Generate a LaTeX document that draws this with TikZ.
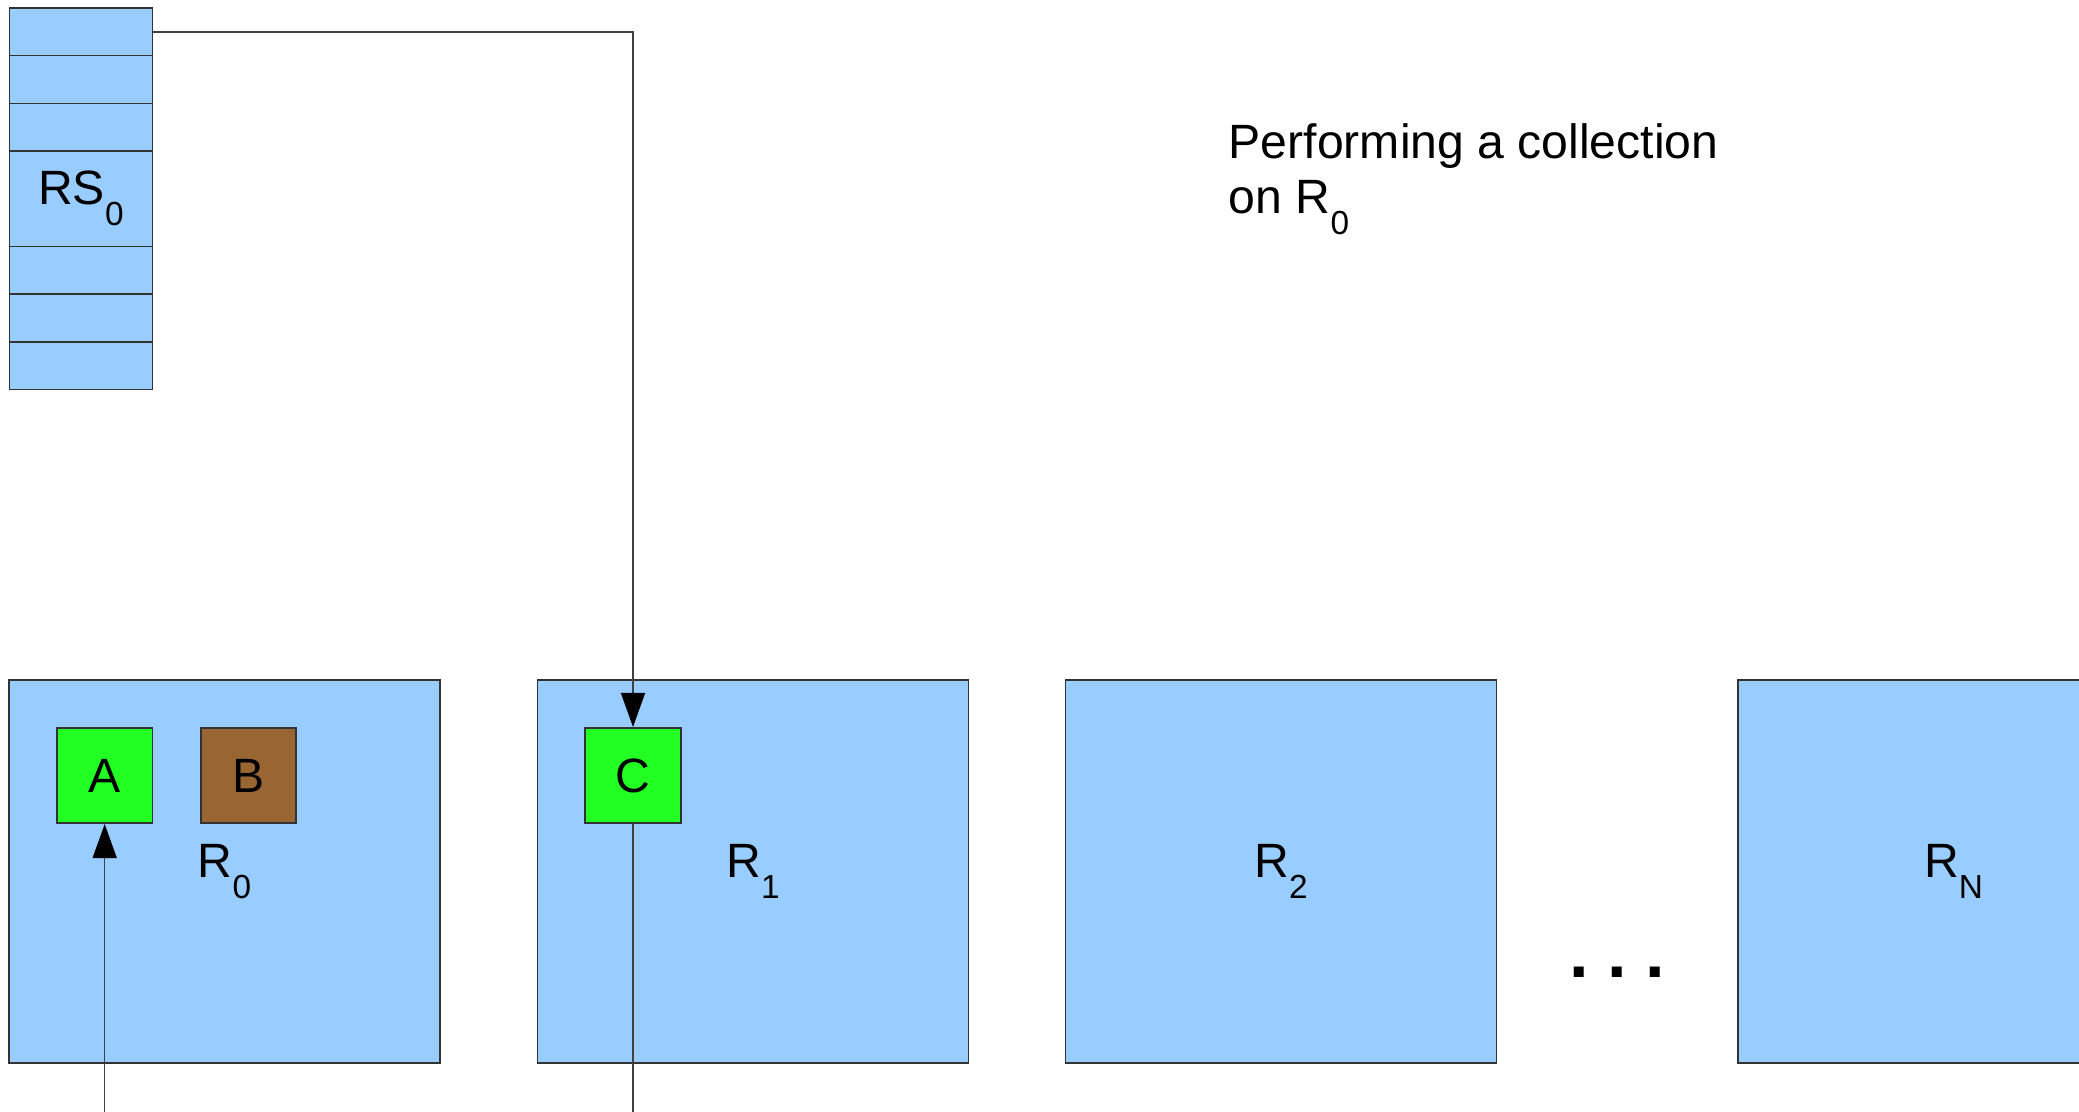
\documentclass[tikz,border=0pt]{standalone}
\usepackage{fontspec}
\setmainfont{Liberation Sans}
\usetikzlibrary{arrows.meta}

\definecolor{regionblue}{HTML}{99CCFF}
\definecolor{livegreen}{HTML}{22FF22}
\definecolor{deadbrown}{HTML}{996633}

% lowered subscript, as in the slides
\newcommand{\lowsub}[1]{\raisebox{-6pt}{\fontsize{9.5}{9.5}\selectfont #1}}

\begin{document}
\begin{tikzpicture}[
        line width=0.45pt,
        cell/.style={rectangle, draw=black!80, fill=regionblue, minimum width=1.432cm, minimum height=0.477cm, inner sep=0pt},
        region/.style={rectangle, draw=black!80, fill=regionblue, minimum width=4.31cm, minimum height=3.83cm, inner sep=0pt, font=\fontsize{13.7}{16}\selectfont},
        object/.style={rectangle, draw=black!80, minimum size=0.955cm, inner sep=0pt, font=\fontsize{13.7}{16}\selectfont},
        arrow/.style={-{Triangle[length=3.4mm, width=2.4mm, color=black]}, draw=black!75}
    ]
        \clip (0,0) rectangle (20.79,-11.11);
        \fill[white] (0,0) rectangle (20.79,-11.11);

        % Remembered set of R0
        \node[cell] (slot1) at (0.809,-0.3185) {};
        \node[cell] (slot2) at (0.809,-0.7955) {};
        \node[cell] (slot3) at (0.809,-1.2725) {};
        \node[cell, minimum height=0.954cm, font=\fontsize{13.7}{16}\selectfont] (rs0) at (0.809,-1.988) {\raisebox{-2pt}{RS\lowsub{0}}};
        \node[cell] (slot5) at (0.809,-2.7035) {};
        \node[cell] (slot6) at (0.809,-3.1805) {};
        \node[cell] (slot7) at (0.809,-3.6575) {};

        % Regions
        \node[region] (r0) at (2.245,-8.715) {R\lowsub{0}};
        \node[region] (r1) at (7.53,-8.715) {R\lowsub{1}};
        \node[region] (r2) at (12.81,-8.715) {R\lowsub{2}};
        \node[region] (rn) at (19.535,-8.715) {R\lowsub{N}};
        \node[font=\fontsize{20}{20}\selectfont\bfseries] (dots) at (16.17,-9.72) {.\kern0.26em.\kern0.26em.};

        % Objects
        \node[object, fill=livegreen] (a) at (1.047,-7.755) {A};
        \node[object, fill=deadbrown] (b) at (2.485,-7.755) {B};
        \node[object, fill=livegreen] (c) at (6.33,-7.755) {C};

        % Caption
        \node[anchor=north west, inner sep=0pt, align=left, font=\fontsize{13.7}{15.7}\selectfont] (caption) at (12.28,-1.23) {Performing a collection\\on R\lowsub{0}};

        % References
        \coordinate (rootin) at (a.south |- 0,-11.2);
        \coordinate (cout) at (c.south |- 0,-11.2);
        \draw[arrow] (slot1.east) -| (c.north);
        \draw[arrow] (rootin) -- (a.south);
        \draw[draw=black!75] (c.south) -- (cout);

    \end{tikzpicture}
\end{document}
